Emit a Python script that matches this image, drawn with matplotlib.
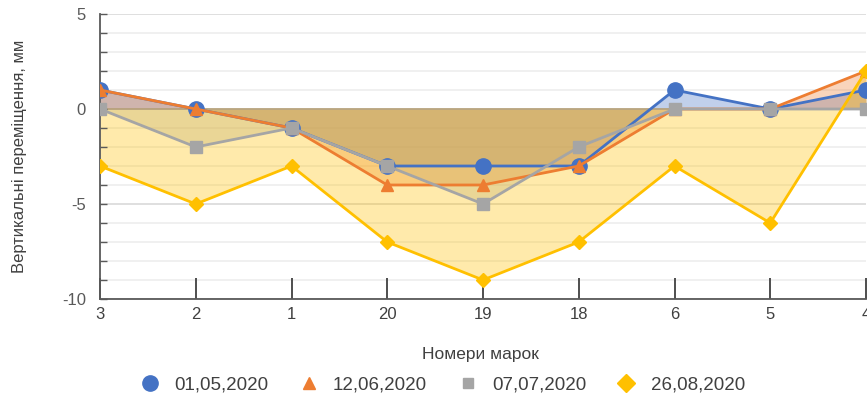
import matplotlib.pyplot as plt
from matplotlib.ticker import MultipleLocator
from matplotlib.lines import Line2D

# marks (x categories) and vertical displacement per survey date
marks = ["3", "2", "1", "20", "19", "18", "6", "5", "4"]
d_0105 = [1, 0, -1, -3, -3, -3, 1, 0, 1]
d_1206 = [1, 0, -1, -4, -4, -3, 0, 0, 2]
d_0707 = [0, -2, -1, -3, -5, -2, 0, 0, 0]
d_2608 = [-3, -5, -3, -7, -9, -7, -3, -6, 2]
dates = ["01,05,2020", "12,06,2020", "07,07,2020", "26,08,2020"]

series = [d_0105, d_1206, d_0707, d_2608]
colors = ["#4472C4", "#ED7D31", "#A5A5A5", "#FFC000"]
markers = ["o", "^", "s", "D"]
msizes = [11, 8, 8, 7]

plt.rcParams["font.family"] = ["Liberation Sans", "DejaVu Sans"]
plt.rcParams["axes.unicode_minus"] = False

fig = plt.figure(figsize=(8.67, 3.96), dpi=100)
ax = fig.add_axes([100 / 867, 1 - 299 / 396, 766 / 867, 285 / 396])

x = list(range(len(marks)))

# gridlines every 1 mm
for v in range(-10, 6):
    c = "#D9D9D9" if v % 5 == 0 else "#EDEDED"
    ax.axhline(v, color=c, lw=1.2, zorder=0)

# filled areas first, then lines with markers
for vals, col in zip(series, colors):
    ax.fill_between(x, vals, 0, color=col, alpha=0.33, lw=0, zorder=1)
ax.axhline(0, color="#B8A27A", lw=1.2, zorder=1.5)
for vals, col, m, ms in zip(series, colors, markers, msizes):
    ax.plot(x, vals, color=col, lw=2, marker=m, markersize=ms, zorder=3)

ax.set_xlim(0, 8)
ax.set_ylim(-10, 5)
ax.set_xticks(x)
ax.set_xticklabels(marks)
ax.yaxis.set_major_locator(MultipleLocator(5))
ax.yaxis.set_minor_locator(MultipleLocator(1))

for s in ["top", "right"]:
    ax.spines[s].set_visible(False)
for s in ["left", "bottom"]:
    ax.spines[s].set_color("#595959")
    ax.spines[s].set_linewidth(1.3)

ax.tick_params(axis="x", direction="in", length=15, width=1.3, color="#404040",
               labelsize=12, labelcolor="#404040", pad=6)
ax.tick_params(axis="y", which="major", direction="in", length=5, width=1,
               color="#595959", labelsize=12, labelcolor="#595959", pad=10)
ax.tick_params(axis="y", which="minor", direction="in", length=5, width=1,
               color="#595959")

ax.set_ylabel("Вертикальні переміщення, мм", fontsize=12, color="#404040")
ax.yaxis.set_label_coords(-0.095, 0.5)
fig.text(480 / 867, 1 - 354 / 396, "Номери марок", fontsize=12.5, color="#404040",
         ha="center", va="center")

handles = [Line2D([], [], ls="", marker=m, color=c, markersize=ms)
           for m, c, ms in zip(markers, colors, [11, 8, 7, 9])]
fig.legend(handles, dates, loc="center", bbox_to_anchor=(440 / 867, 1 - 385 / 396),
           ncol=4, frameon=False, fontsize=13.5, handletextpad=0.5, columnspacing=1.35,
           handlelength=1.6, labelcolor="#404040")

fig.savefig("out.png", dpi=100)
